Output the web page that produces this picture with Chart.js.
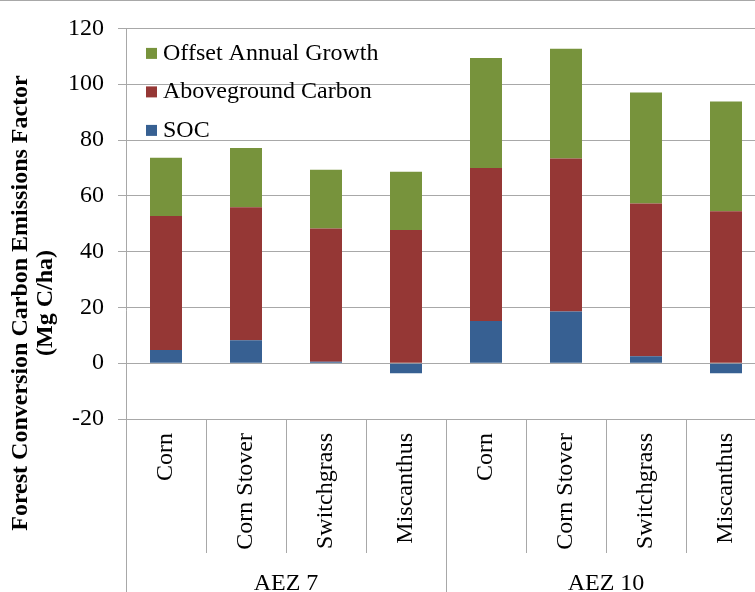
<!DOCTYPE html>
<html>
<head>
<meta charset="utf-8">
<script src="https://cdn.jsdelivr.net/npm/chart.js@4/dist/chart.umd.min.js"></script>
<style>
    html, body { margin: 0; padding: 0; overflow: hidden; background: #fff; }
    canvas { display: block; }
    .preload { position: absolute; left: -9999px; font-family: "Liberation Serif"; font-size: 24px; }
</style>
</head>
<body>
<span class="preload">Corn</span><span class="preload" style="font-weight:bold">Forest</span>
<canvas id="chart" width="770" height="592"></canvas>
<script>
'use strict';

// Data
const crops = ['Corn', 'Corn Stover', 'Switchgrass', 'Miscanthus', 'Corn', 'Corn Stover', 'Switchgrass', 'Miscanthus'];
const regions = ['AEZ 7', 'AEZ 10'];
const cropsPerRegion = 4;
const socValues = [4.7, 8.2, 0.5, -3.6, 15.1, 18.5, 2.5, -3.6];
const abovegroundValues = [48.1, 47.7, 47.8, 47.7, 54.9, 54.9, 54.7, 54.5];
const offsetValues = [20.8, 21.2, 21.0, 20.9, 39.4, 39.3, 39.8, 39.3];
const yMin = -20;
const yMax = 120;
const yStep = 20;
const yTitleLines = ['Forest Conversion Carbon Emissions Factor', '(Mg C/ha)'];

const SERIF = '"Liberation Serif", serif';
const FONT_SIZE = 24;
const GRID = '#a8a8a8';

// Axis decorations Excel draws but Chart.js doesn't: frame, category dividers,
// group labels, the full-height y title and the in-plot legend.
const excelFrame = {
    id: 'excelFrame',
    afterDraw(chart) {
        const ctx = chart.ctx;
        const area = chart.chartArea;
        const x = chart.scales.x;
        const H = chart.height;
        const half = (x.getPixelForValue(1) - x.getPixelForValue(0)) / 2;

        ctx.save();
        ctx.strokeStyle = GRID;
        ctx.lineWidth = 1;

        // outer frame top
        ctx.beginPath();
        ctx.moveTo(0, 0.5);
        ctx.lineTo(chart.width, 0.5);
        ctx.stroke();

        // y axis line, running down through the category band
        const ax = Math.round(area.left) + 0.5;
        ctx.beginPath();
        ctx.moveTo(ax, area.top);
        ctx.lineTo(ax, H);
        ctx.stroke();

        // dividers between categories
        for (let i = 1; i <= crops.length; i++) {
            const bx = Math.round(x.getPixelForValue(i - 1) + half) + 0.5;
            const isGroupEdge = i % cropsPerRegion === 0;
            ctx.beginPath();
            ctx.moveTo(bx, area.bottom);
            ctx.lineTo(bx, isGroupEdge ? H : area.bottom + 134);
            ctx.stroke();
        }

        // group labels
        ctx.fillStyle = '#000';
        ctx.font = FONT_SIZE + 'px ' + SERIF;
        ctx.textAlign = 'center';
        ctx.textBaseline = 'alphabetic';
        regions.forEach((name, g) => {
            const first = x.getPixelForValue(g * cropsPerRegion);
            const last = x.getPixelForValue(g * cropsPerRegion + cropsPerRegion - 1);
            ctx.fillText(name, (first + last) / 2, H - 2);
        });

        // y axis title, centred on the whole picture height like Excel does
        ctx.font = 'bold ' + FONT_SIZE + 'px ' + SERIF;
        ctx.textBaseline = 'middle';
        yTitleLines.forEach((line, k) => {
            ctx.save();
            ctx.translate(21 + k * 25, H / 2 + 7);
            ctx.rotate(-Math.PI / 2);
            ctx.fillText(line, 0, 0);
            ctx.restore();
        });

        // legend inside the plot, top series first
        ctx.font = FONT_SIZE + 'px ' + SERIF;
        ctx.textAlign = 'left';
        const sets = chart.data.datasets.slice().reverse();
        sets.forEach((ds, k) => {
            const cy = area.top + 25 + k * 38.5;
            ctx.fillStyle = ds.backgroundColor;
            ctx.fillRect(area.left + 20, cy - 5.5, 11, 11);
            ctx.fillStyle = '#000';
            ctx.fillText(ds.label, area.left + 37, cy);
        });

        ctx.restore();
    }
};

function buildChart() {
    return new Chart(document.getElementById('chart').getContext('2d'), {
        type: 'bar',
        data: {
            labels: crops,
            datasets: [
                { label: 'SOC', data: socValues, backgroundColor: '#376092' },
                { label: 'Aboveground Carbon', data: abovegroundValues, backgroundColor: '#953735' },
                { label: 'Offset Annual Growth', data: offsetValues, backgroundColor: '#77933c' }
            ]
        },
        options: {
            responsive: false,
            animation: false,
            devicePixelRatio: 1,
            font: { family: SERIF, size: FONT_SIZE },
            layout: { padding: { top: 25, left: 0, right: 4, bottom: 0 } },
            datasets: {
                bar: { barPercentage: 0.4, categoryPercentage: 1, borderWidth: 0 }
            },
            plugins: {
                legend: { display: false },
                title: { display: false },
                tooltip: { enabled: false }
            },
            scales: {
                x: {
                    stacked: true,
                    afterFit(scale) { scale.height = 173; },
                    grid: { display: false, drawTicks: false },
                    border: { display: false },
                    ticks: {
                        autoSkip: false,
                        minRotation: 90,
                        maxRotation: 90,
                        padding: 14,
                        color: '#000',
                        font: { family: SERIF, size: FONT_SIZE }
                    }
                },
                y: {
                    stacked: true,
                    min: yMin,
                    max: yMax,
                    afterFit(scale) { scale.width = 126; },
                    grid: { color: GRID, lineWidth: 1, tickLength: 8 },
                    border: { display: false },
                    ticks: {
                        stepSize: yStep,
                        padding: 14,
                        color: '#000',
                        font: { family: SERIF, size: FONT_SIZE }
                    }
                }
            }
        },
        plugins: [excelFrame]
    });
}

Promise.all([
    document.fonts.load(FONT_SIZE + 'px "Liberation Serif"'),
    document.fonts.load('bold ' + FONT_SIZE + 'px "Liberation Serif"')
]).then(buildChart, buildChart);
</script>
</body>
</html>
